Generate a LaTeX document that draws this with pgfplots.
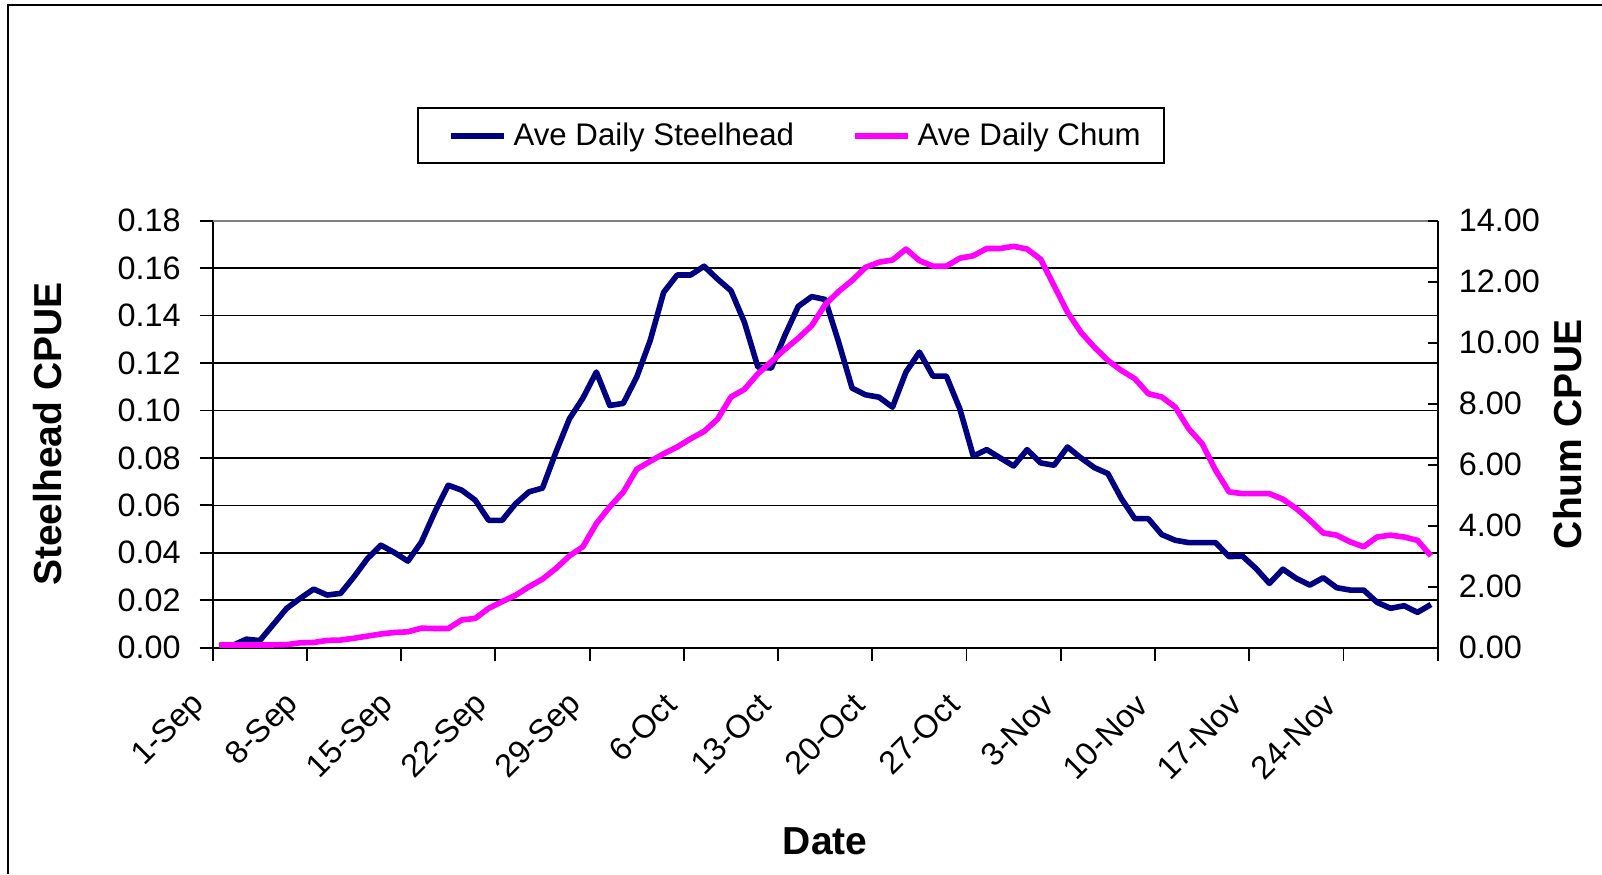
\documentclass[border=0pt]{standalone}
\usepackage{fontspec}
\setmainfont{Liberation Sans}
\usepackage{pgfplots}
\usepackage{pgfplotstable}
\pgfplotsset{compat=1.18}
\definecolor{navyline}{HTML}{000080}
\definecolor{magline}{HTML}{FF00FF}

\pgfplotstableread{
x y
0.5 0.001
1.5 0.001
2.5 0.0036
3.5 0.003
4.5 0.0098
5.5 0.0166
6.5 0.0208
7.5 0.0247
8.5 0.0222
9.5 0.0229
10.5 0.0299
11.5 0.0376
12.5 0.0432
13.5 0.0401
14.5 0.0365
15.5 0.0445
16.5 0.0572
17.5 0.0685
18.5 0.0664
19.5 0.0622
20.5 0.0537
21.5 0.0537
22.5 0.0607
23.5 0.0657
24.5 0.0673
25.5 0.0825
26.5 0.0965
27.5 0.1052
28.5 0.1162
29.5 0.1021
30.5 0.1030
31.5 0.1141
32.5 0.1295
33.5 0.1498
34.5 0.1571
35.5 0.1571
36.5 0.1608
37.5 0.1554
38.5 0.1505
39.5 0.1372
40.5 0.1183
41.5 0.1179
42.5 0.1316
43.5 0.1439
44.5 0.1480
45.5 0.1468
46.5 0.1288
47.5 0.1094
48.5 0.1066
49.5 0.1056
50.5 0.1014
51.5 0.1162
52.5 0.1246
53.5 0.1145
54.5 0.1145
55.5 0.1007
56.5 0.0808
57.5 0.0835
58.5 0.0800
59.5 0.0766
60.5 0.0835
61.5 0.0779
62.5 0.0769
63.5 0.0846
64.5 0.0800
65.5 0.0759
66.5 0.0734
67.5 0.0629
68.5 0.0544
69.5 0.0544
70.5 0.0477
71.5 0.0453
72.5 0.0443
73.5 0.0443
74.5 0.0443
75.5 0.0384
76.5 0.0386
77.5 0.0334
78.5 0.0271
79.5 0.0331
80.5 0.0292
81.5 0.0264
82.5 0.0295
83.5 0.0253
84.5 0.0243
85.5 0.0243
86.5 0.0191
87.5 0.0166
88.5 0.0177
89.5 0.0149
90.5 0.0182
}\steelhead

\pgfplotstableread{
x y
0.5 0.09
1.5 0.09
2.5 0.09
3.5 0.09
4.5 0.09
5.5 0.10
6.5 0.16
7.5 0.17
8.5 0.24
9.5 0.25
10.5 0.31
11.5 0.38
12.5 0.45
13.5 0.50
14.5 0.52
15.5 0.64
16.5 0.63
17.5 0.63
18.5 0.91
19.5 0.96
20.5 1.29
21.5 1.51
22.5 1.72
23.5 2.00
24.5 2.25
25.5 2.60
26.5 3.01
27.5 3.31
28.5 4.07
29.5 4.62
30.5 5.10
31.5 5.85
32.5 6.11
33.5 6.36
34.5 6.58
35.5 6.85
36.5 7.09
37.5 7.49
38.5 8.22
39.5 8.47
40.5 8.98
41.5 9.38
42.5 9.78
43.5 10.15
44.5 10.56
45.5 11.25
46.5 11.68
47.5 12.04
48.5 12.47
49.5 12.64
50.5 12.71
51.5 13.07
52.5 12.69
53.5 12.51
54.5 12.51
55.5 12.77
56.5 12.85
57.5 13.09
58.5 13.09
59.5 13.16
60.5 13.07
61.5 12.74
62.5 11.87
63.5 11.00
64.5 10.34
65.5 9.85
66.5 9.42
67.5 9.09
68.5 8.82
69.5 8.33
70.5 8.22
71.5 7.89
72.5 7.18
73.5 6.69
74.5 5.82
75.5 5.11
76.5 5.05
77.5 5.05
78.5 5.05
79.5 4.87
80.5 4.56
81.5 4.18
82.5 3.76
83.5 3.69
84.5 3.47
85.5 3.31
86.5 3.63
87.5 3.69
88.5 3.63
89.5 3.52
90.5 3.01
}\chum

\begin{document}
\begin{tikzpicture}
\useasboundingbox (0,0) rectangle (801pt,437pt);
\fill[white] (0,0) rectangle (801pt,437pt);
\draw[line width=1pt, black] (4pt,0) -- (4pt,434.5pt) -- (801pt,434.5pt);

\begin{axis}[
  at={(106.35pt,113.15pt)}, anchor=south west,
  scale only axis, width=612.5pt, height=213.5pt,
  xmin=0, xmax=91, ymin=0, ymax=0.18,
  clip=false,
  axis x line*=bottom, axis y line*=left,
  x axis line style={-, line width=1.2pt},
  y axis line style={-, line width=1pt},
  xtick={0,7,14,21,28,35,42,49,56,63,70,77,84,91},
  xticklabels={1-Sep,8-Sep,15-Sep,22-Sep,29-Sep,6-Oct,13-Oct,20-Oct,27-Oct,3-Nov,10-Nov,17-Nov,24-Nov,{}},
  ytick={0,0.02,0.04,0.06,0.08,0.10,0.12,0.14,0.16,0.18},
  ymajorgrids,
  grid style={black, line width=0.85pt},
  tick align=outside,
  major tick length=6.5pt,
  tick style={black, line width=0.9pt},
  /pgf/number format/assume math mode=true,
  yticklabel style={xshift=-6pt, /pgf/number format/.cd, fixed, fixed zerofill, precision=2, /tikz/.cd, font=\fontsize{16.2}{19}\selectfont},
  xticklabel style={xshift=-4pt, yshift=-17pt, rotate=45, anchor=east, font=\fontsize{16.2}{19}\selectfont},
  xlabel={Date},
  xlabel style={at={(axis description cs:0.5,-0.4527)}, anchor=center, font=\fontsize{19.5}{23}\selectfont\bfseries},
  ylabel={Steelhead CPUE},
  ylabel style={at={(axis description cs:-0.1345,0.5)}, anchor=center, font=\fontsize{19.5}{23}\selectfont\bfseries},
]
\draw[gray, line width=1pt] (rel axis cs:0,1) -- (rel axis cs:1,1);
\addplot[navyline, line width=2.8pt, line join=round] table[x=x, y=y] {\steelhead};
\end{axis}

\begin{axis}[
  at={(106.35pt,113.15pt)}, anchor=south west,
  scale only axis, width=612.5pt, height=213.5pt,
  xmin=0, xmax=91, ymin=0, ymax=14,
  clip=false,
  axis x line=none, axis y line*=right,
  y axis line style={-, line width=1pt},
  ytick={0,2,4,6,8,10,12,14},
  tick align=inside,
  major tick length=5pt,
  tick style={black, line width=0.9pt},
  /pgf/number format/assume math mode=true,
  yticklabel style={xshift=7pt, /pgf/number format/.cd, fixed, fixed zerofill, precision=2, /tikz/.cd, font=\fontsize{16.2}{19}\selectfont},
  ylabel={Chum CPUE},
  ylabel style={at={(axis description cs:1.1064,0.5)}, anchor=center, rotate=0, font=\fontsize{19.5}{23}\selectfont\bfseries},
  legend columns=2,
  legend style={at={(axis description cs:0.472,1.199)}, anchor=center,
    draw=black, line width=1pt, inner xsep=9.5pt, inner ysep=5.25pt,
    font=\fontsize{15.6}{18}\selectfont,
    /tikz/every even column/.append style={column sep=21.5pt}},
  legend image code/.code={\path (0pt,0pt) (33.5pt,0pt); \draw[#1] (5.5pt,0pt) -- (32pt,0pt);},
]
\addlegendimage{navyline, line width=2.8pt}
\addlegendentry{Ave Daily Steelhead}
\addplot[magline, line width=2.8pt, line join=round] table[x=x, y=y] {\chum};
\addlegendentry{Ave Daily Chum}
\end{axis}
\end{tikzpicture}
\end{document}
